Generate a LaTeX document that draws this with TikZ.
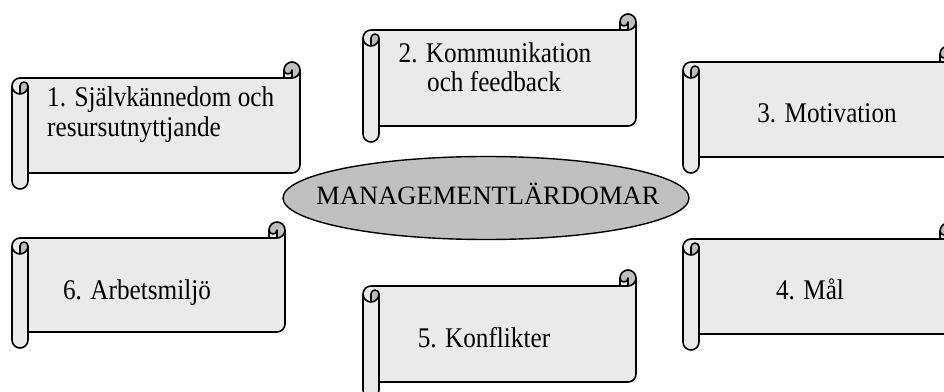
\documentclass[tikz,border=0pt]{standalone}
\usepackage{fontspec}
\setmainfont{Liberation Serif}
\newfontfamily\condfont{Liberation Serif}[FakeStretch=0.885]
\usetikzlibrary{shapes.geometric}
\begin{document}
\begin{tikzpicture}[x=1pt,y=1pt,line join=round,
  scrollline/.style={line width=1.6pt,draw=black},
  lbl/.style={font=\condfont\fontsize{28.5}{30}\selectfont,inner sep=0pt,anchor=base},
  lbll/.style={lbl,anchor=base west},
  centerlbl/.style={font=\fontsize{26.5}{30}\selectfont,inner sep=0pt,anchor=base}]
\definecolor{scrollfill}{RGB}{234,234,234}
\definecolor{curlfill}{RGB}{190,190,190}
\definecolor{ellfill}{RGB}{192,192,192}
\useasboundingbox (0,0) rectangle (944,391);
\clip (0,0) rectangle (944,391);
% scroll shape: #1 left, #2 top, #3 right, #4 bottom (pixel coords, y down)
\newcommand\scrollshape[4]{%
  \pgfmathsetmacro\sL{#1}\pgfmathsetmacro\sT{391-(#2)}%
  \pgfmathsetmacro\sR{#3}\pgfmathsetmacro\sB{391-(#4)}%
  \fill[scrollfill] (\sL,\sT-24) arc[start angle=180,end angle=90,radius=8]
    -- (\sR-16,\sT-16) -- (\sR-16,\sT-8) arc[start angle=180,end angle=0,radius=8]
    -- (\sR,\sB+24) arc[start angle=0,end angle=-90,radius=8]
    -- (\sL+16,\sB+16) -- (\sL+16,\sB+8) arc[start angle=0,end angle=-180,radius=8] -- cycle;
  \fill[curlfill] (\sR-8,\sT-16) arc[start angle=-90,end angle=180,radius=8]
    arc[start angle=180,end angle=360,radius=4] -- cycle;
  \fill[curlfill] (\sL+8,\sT-32) arc[start angle=-90,end angle=0,radius=8]
    arc[start angle=0,end angle=180,radius=4] -- cycle;
  \draw[scrollline] (\sL,\sT-24) arc[start angle=180,end angle=90,radius=8]
    -- (\sR-16,\sT-16) -- (\sR-16,\sT-8) arc[start angle=180,end angle=0,radius=8]
    -- (\sR,\sB+24) arc[start angle=0,end angle=-90,radius=8]
    -- (\sL+16,\sB+16) -- (\sL+16,\sB+8) arc[start angle=0,end angle=-180,radius=8] -- cycle;
  \draw[scrollline] (\sR-16,\sT-16) -- (\sR-8,\sT-16) arc[start angle=-90,end angle=0,radius=8];
  \draw[scrollline] (\sR-8,\sT-16) -- (\sR-8,\sT-8) arc[start angle=0,end angle=-180,radius=4];
  \draw[scrollline] (\sL+8,\sT-32) -- (\sL+8,\sT-24) arc[start angle=180,end angle=0,radius=4]
    arc[start angle=0,end angle=-180,radius=8];
  \draw[scrollline] (\sL+16,\sT-24) -- (\sL+16,\sB+16);
}
% scrolls
\scrollshape{12}{62}{300}{189}
\scrollshape{363}{14}{636}{142}
\scrollshape{683}{46}{956}{173}
\scrollshape{12}{222}{285}{348}
\scrollshape{363}{270}{636}{398}
\scrollshape{683}{223}{956}{350}
% central ellipse
\node[draw=black,line width=1.4pt,fill=ellfill,ellipse,minimum width=406pt,minimum height=83pt,inner sep=0pt] (center) at (486,193) {};
\node[centerlbl] (centertext) at (488,186) {MANAGEMENTLÄRDOMAR};
% labels
\node[lbll] (t1a) at (47,284) {1. Självkännedom och};
\node[lbll] (t1b) at (47,254) {resursutnyttjande};
\node[lbl] (t2a) at (495,328) {2. Kommunikation};
\node[lbl] (t2b) at (494,299) {och feedback};
\node[lbl] (t3) at (827,268) {3. Motivation};
\node[lbl] (t4) at (810,92) {4. Mål};
\node[lbl] (t5) at (484,44) {5. Konflikter};
\node[lbl] (t6) at (137,92) {6. Arbetsmiljö};
\end{tikzpicture}
\end{document}
